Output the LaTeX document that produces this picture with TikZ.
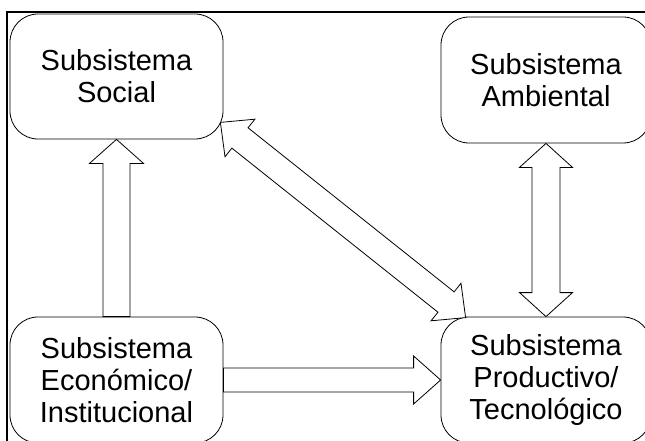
\documentclass[tikz,border=0pt]{standalone}
\usepackage{fontspec}
\setmainfont{Liberation Sans}
\usetikzlibrary{calc}
\tikzset{
  box/.style={draw, rounded corners=28pt, line width=0.8pt, align=center,
    font=\fontsize{29}{32}\selectfont, inner sep=0pt},
  arrowline/.style={draw, line width=0.8pt, fill=white, line join=miter},
  frame/.style={draw, line width=1.6pt}
}
% #1 tail, #2 tip, #3 shaft half width, #4 head half width, #5 head length
\newcommand{\onefatarrow}[5]{%
  \coordinate (fa-t) at (#1);
  \coordinate (fa-p) at (#2);
  \coordinate (fa-c) at ($(fa-p)!#5!(fa-t)$);
  \path[arrowline] ($(fa-t)!#3!90:(fa-p)$) -- ($(fa-c)!#3!90:(fa-p)$)
    -- ($(fa-c)!#4!90:(fa-p)$) -- (fa-p) -- ($(fa-c)!#4!-90:(fa-p)$)
    -- ($(fa-c)!#3!-90:(fa-p)$) -- ($(fa-t)!#3!-90:(fa-p)$) -- cycle;
}
\newcommand{\twofatarrow}[5]{%
  \coordinate (da-a) at (#1);
  \coordinate (da-b) at (#2);
  \coordinate (da-c1) at ($(da-a)!#5!(da-b)$);
  \coordinate (da-c2) at ($(da-b)!#5!(da-a)$);
  \path[arrowline] (da-a) -- ($(da-c1)!#4!90:(da-b)$) -- ($(da-c1)!#3!90:(da-b)$)
    -- ($(da-c2)!#3!90:(da-b)$) -- ($(da-c2)!#4!90:(da-b)$) -- (da-b)
    -- ($(da-c2)!#4!-90:(da-b)$) -- ($(da-c2)!#3!-90:(da-b)$)
    -- ($(da-c1)!#3!-90:(da-b)$) -- ($(da-c1)!#4!-90:(da-b)$) -- cycle;
}
\begin{document}
\begin{tikzpicture}[x=1pt,y=-1pt]
  \useasboundingbox (0,0) rectangle (645,441);
  \clip (0,0) rectangle (645,441);
  \draw[frame] (7,12) rectangle (700,500);

  \node[box, minimum width=213pt, minimum height=125pt] (social) at (116.5,76.5) {Subsistema\\Social};
  \node[box, minimum width=210pt, minimum height=126pt] (amb) at (546,80) {Subsistema\\Ambiental};
  \node[box, minimum width=213pt, minimum height=126pt] (econ) at (116.5,380) {Subsistema\\Económico/\\Institucional};
  \node[box, minimum width=210pt, minimum height=126pt] (prod) at (546,380) {Subsistema\\Productivo/\\Tecnológico};

  \coordinate (d1) at ($(social.south east)+(-3,-17)$);
  \coordinate (d2) at ($(prod.north west)+(25,1)$);

  \onefatarrow{econ.north}{social.south}{13.5pt}{27pt}{24pt}
  \onefatarrow{econ.east}{prod.west}{12pt}{24pt}{27pt}
  \twofatarrow{amb.south}{prod.north}{14pt}{26.5pt}{24pt}
  \twofatarrow{d1}{d2}{13pt}{24pt}{25pt}
\end{tikzpicture}
\end{document}
